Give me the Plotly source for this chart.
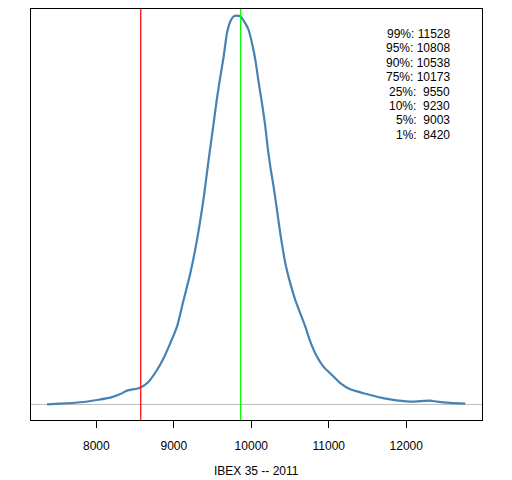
import plotly.graph_objects as go

# density estimate of IBEX 35 closing values (peak scaled to 1)
ibex_x = [7364, 7535, 7794, 8009, 8181, 8310, 8396, 8568, 8675, 8783, 8868, 8955,
          9041, 9126, 9213, 9299, 9385, 9449, 9514, 9557, 9600, 9643, 9686, 9729,
          9772, 9815, 9858, 9923, 9965, 10009, 10052, 10094, 10138, 10181, 10210,
          10245, 10288, 10332, 10374, 10439, 10503, 10568, 10632, 10697, 10761,
          10848, 10933, 11041, 11148, 11277, 11449, 11622, 11794, 12052, 12310,
          12396, 12568, 12761]
density = [0.0005, 0.002, 0.0057, 0.0116, 0.0175, 0.027, 0.0356, 0.0433, 0.0588,
           0.0889, 0.119, 0.158, 0.2005, 0.269, 0.338, 0.424, 0.532, 0.630, 0.725,
           0.789, 0.844, 0.896, 0.957, 0.987, 1.0, 1.002, 1.0, 0.982, 0.965, 0.931,
           0.888, 0.831, 0.776, 0.716, 0.664, 0.613, 0.561, 0.5, 0.441, 0.364,
           0.312, 0.269, 0.235, 0.2005, 0.162, 0.123, 0.097, 0.076, 0.055, 0.039,
           0.029, 0.020, 0.013, 0.0072, 0.0098, 0.0072, 0.0039, 0.002]

red_line = 8573
green_line = 9862

quant_labels = ["99%:", "95%:", "90%:", "75%:", "25%:", "10%:", "5%:", "1%:"]
quant_values = [11528, 10808, 10538, 10173, 9550, 9230, 9003, 8420]

x_ticks = [8000, 9000, 10000, 11000, 12000]
x_tick_text = ["8000", "9000", "10000", "11000", "12000"]

font_family = "Liberation Sans, Arial"

fig = go.Figure()
fig.add_trace(go.Scatter(
    x=ibex_x, y=density, mode="lines",
    line=dict(color="#4682B4", width=2.2, shape="spline", smoothing=0.6),
    hoverinfo="skip",
))

# zero line, then the two vertical markers
fig.add_shape(type="line", xref="paper", x0=0, x1=1, yref="y", y0=0, y1=0,
              line=dict(color="#BEBEBE", width=1), layer="below")
fig.add_shape(type="line", xref="x", x0=red_line, x1=red_line, yref="paper", y0=0, y1=1,
              line=dict(color="#FF0000", width=1.2), layer="above")
fig.add_shape(type="line", xref="x", x0=green_line, x1=green_line, yref="paper", y0=0, y1=1,
              line=dict(color="#00FF00", width=1.2), layer="above")

# quantile text block, right aligned (4 digit values get an extra space)
for i, (lab, val) in enumerate(zip(quant_labels, quant_values)):
    num = str(val)
    pad = "\u00a0" * (1 + (5 - len(num)))
    fig.add_annotation(
        x=0.933, xref="paper", y=1, yref="paper",
        xanchor="right", yanchor="middle",
        yshift=-25 - 14.4 * i,
        text=lab + pad + num, showarrow=False,
        font=dict(size=12, color="black", family=font_family),
    )

fig.add_annotation(
    x=0.5, xref="paper", y=-0.124, yref="paper",
    xanchor="center", yanchor="middle",
    text="IBEX 35 -- 2011", showarrow=False,
    font=dict(size=12, color="black", family=font_family),
)

# the page body adds 8px on the left and top, margins make up for it
fig.update_layout(
    width=512, height=480,
    margin=dict(l=23, r=38, t=1, b=68),
    paper_bgcolor="white", plot_bgcolor="white",
    showlegend=False,
    font=dict(family=font_family, size=12, color="black"),
    xaxis=dict(
        range=[7157, 12977], tickvals=x_ticks, ticktext=x_tick_text,
        ticks="outside", ticklen=7, tickcolor="black", ticklabelstandoff=8,
        showgrid=False, zeroline=False,
        showline=True, linecolor="black", linewidth=1, mirror=True,
        tickfont=dict(size=12),
    ),
    yaxis=dict(
        range=[-0.04, 1.019], showticklabels=False, ticks="", showgrid=False,
        zeroline=False, showline=True, linecolor="black", linewidth=1, mirror=True,
    ),
)

fig.write_html("out.html")
